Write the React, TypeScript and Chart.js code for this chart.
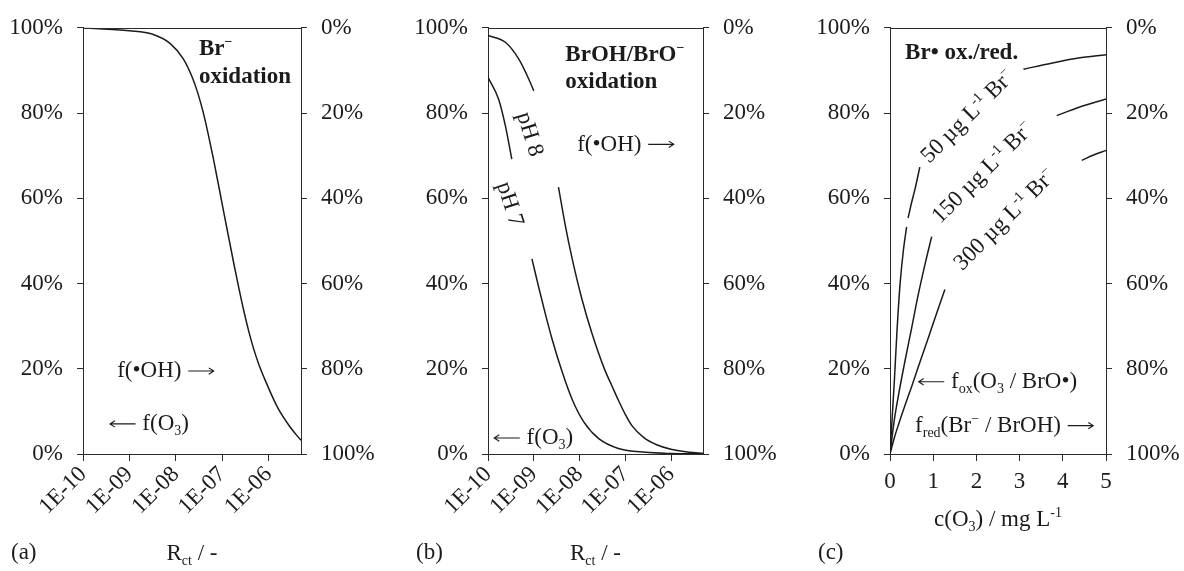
import React, { useEffect, useRef } from 'react';
import { Chart, registerables } from 'chart.js';

Chart.register(...registerables);

const SERIF = "'Liberation Serif', 'Times New Roman', Times, serif";
const INK = '#1b1b1b';
const RULE = '#2b2b2b';
const FS = 23;
const H = 571;

// (a) Br⁻ oxidation: share of O3 pathway against Rct
const rctBromide = [1e-10, 1e-9, 3.16e-9, 7.41e-9, 1.45e-8, 2.34e-8, 3.02e-8, 3.89e-8, 5.01e-8, 6.46e-8, 1.07e-7, 1.78e-7, 2.29e-7, 2.88e-7, 3.72e-7, 4.79e-7, 6.17e-7, 7.94e-7, 1.55e-6, 3.02e-6, 5e-6];
const o3ShareBromide = [100, 99.3, 98.5, 96.4, 92.7, 88.0, 84.5, 80.2, 75.0, 69.3, 57.0, 44.7, 38.9, 33.9, 28.9, 24.6, 21.0, 18.0, 11.0, 6.1, 3.2];

// (b) BrOH/BrO⁻ oxidation at pH 8 and pH 7 (null = gap left for the curve label)
const rctPH8 = [1e-10, 2.4e-10, 4.68e-10, 7.76e-10, 1e-9, 2e-9, 3.47e-9, 4.9e-9, 6.92e-9, 1.12e-8, 1.86e-8, 3.55e-8, 5.01e-8, 7.08e-8, 1e-7, 1.41e-7, 2.51e-7, 5.01e-7, 1e-6, 2.51e-6, 5e-6];
const o3SharePH8 = [98.2, 96.6, 92.7, 88.0, 85.2, null, 62.6, 53.6, 45.8, 36.5, 28.4, 19.8, 16.2, 12.6, 9.3, 6.6, 3.9, 2.1, 1.1, 0.4, 0.15];
const rctPH7 = [1e-10, 1.7e-10, 2.4e-10, 3.31e-10, 6e-10, 9.12e-10, 1.29e-9, 1.78e-9, 2.51e-9, 4.17e-9, 6.92e-9, 1.26e-8, 2.63e-8, 7.08e-8, 2.75e-7, 1e-6, 5e-6];
const o3SharePH7 = [88.4, 83.3, 77.0, 69.2, null, 45.8, 39.0, 33.0, 27.0, 19.3, 12.8, 7.4, 3.6, 1.3, 0.4, 0.12, 0.03];

// (c) Br• oxidation share against ozone dose, for three bromide levels
const doseBr50 = [0, 0.1, 0.16, 0.23, 0.31, 0.385, 0.4, 0.42, 0.5, 0.58, 0.69, 1.5, 3.09, 3.74, 4.36, 5];
const oxShareBr50 = [0, 17, 28.5, 39.5, 47.8, 53.3, null, 55.4, 59.0, 62.2, 67.3, null, 90.3, 91.7, 92.9, 93.7];
const doseBr150 = [0, 0.1, 0.2, 0.35, 0.5, 0.65, 0.81, 0.965, 2, 3.86, 4.36, 5];
const oxShareBr150 = [0, 8, 14, 22, 29.5, 37.2, 44.5, 51, null, 79.4, 81.3, 83.3];
const doseBr300 = [0, 0.1, 0.2, 0.35, 0.5, 0.65, 0.81, 0.965, 1.12, 1.27, 3, 4.44, 4.7, 5];
const oxShareBr300 = [0, 3.8, 7.0, 11.5, 15.8, 20.3, 25.0, 29.6, 34.2, 38.6, null, 68.9, 70.1, 71.2];

const rctTicks = [1e-10, 1e-9, 1e-8, 1e-7, 1e-6];
const doseTicks = [0, 1, 2, 3, 4, 5];

type Seg = { t: string; s?: 'sub' | 'sup'; arrow?: 'l' | 'r' };
type Note = { x: number; y: number; segs: Seg[]; bold?: boolean; rot?: number; mid?: boolean };
type Series = { xs: number[]; ys: (number | null)[] };

interface PanelSpec {
  left: number;
  width: number;
  axisLeft: number;
  axisRight: number;
  log: boolean;
  letter: string;
  xTitle: Seg[];
  xTitleDrop: number;
  series: Series[];
  notes: Note[];
}

const fontOf = (size: number, bold: boolean) => `${bold ? 'bold ' : ''}${size}px ${SERIF}`;
const ARROW_W = FS * 1.2;

// draws a run of text pieces with sub/superscripts and long thin arrows
function drawRich(
  ctx: CanvasRenderingContext2D,
  segs: Seg[],
  x: number,
  y: number,
  opt: { bold?: boolean; rot?: number; mid?: boolean; center?: boolean }
) {
  const small = Math.round(FS * 0.62);
  ctx.save();
  ctx.translate(x, y);
  if (opt.rot) ctx.rotate((opt.rot * Math.PI) / 180);
  ctx.textBaseline = 'alphabetic';
  ctx.textAlign = 'left';
  ctx.fillStyle = INK;
  ctx.strokeStyle = INK;
  const widths = segs.map((sg) => {
    if (sg.arrow) return ARROW_W;
    ctx.font = fontOf(sg.s ? small : FS, !!opt.bold);
    return ctx.measureText(sg.t).width;
  });
  const total = widths.reduce((a, b) => a + b, 0);
  let cx = opt.center || opt.mid ? -total / 2 : 0;
  const base = opt.mid ? FS * 0.33 : 0;
  segs.forEach((sg, i) => {
    if (sg.arrow) {
      const ay = base - FS * 0.27;
      const x0 = cx + 1;
      const x1 = cx + widths[i] - 1;
      const tip = sg.arrow === 'r' ? x1 : x0;
      const back = sg.arrow === 'r' ? -1 : 1;
      ctx.lineWidth = 1.1;
      ctx.beginPath();
      ctx.moveTo(x0, ay);
      ctx.lineTo(x1, ay);
      ctx.moveTo(tip + back * 5, ay - 3.2);
      ctx.lineTo(tip, ay);
      ctx.lineTo(tip + back * 5, ay + 3.2);
      ctx.stroke();
    } else {
      ctx.font = fontOf(sg.s ? small : FS, !!opt.bold);
      const dy = sg.s === 'sub' ? FS * 0.22 : sg.s === 'sup' ? -FS * 0.38 : 0;
      ctx.fillText(sg.t, cx, base + dy);
    }
    cx += widths[i];
  });
  ctx.restore();
}

const rctLabel = (v: number) => {
  const e = Math.round(Math.log10(v));
  return '1E-' + String(-e).padStart(2, '0');
};

const rctTitle: Seg[] = [{ t: 'R' }, { t: 'ct', s: 'sub' }, { t: ' / -' }];
const ohNote: Seg[] = [{ t: 'f(•OH) ' }, { t: '', arrow: 'r' }];
const o3Note: Seg[] = [{ t: '', arrow: 'l' }, { t: ' f(O' }, { t: '3', s: 'sub' }, { t: ')' }];
const brLabel = (amount: string): Seg[] => [
  { t: `${amount} µg L` },
  { t: '-1', s: 'sup' },
  { t: ' Br' },
  { t: '−', s: 'sup' },
];

const panels: PanelSpec[] = [
  {
    left: 0,
    width: 390,
    axisLeft: 83,
    axisRight: 89,
    log: true,
    letter: '(a)',
    xTitle: rctTitle,
    xTitleDrop: 106,
    series: [{ xs: rctBromide, ys: o3ShareBromide }],
    notes: [
      { x: 3.16e-8, y: 93.7, segs: [{ t: 'Br' }, { t: '−', s: 'sup' }], bold: true },
      { x: 3.16e-8, y: 87.1, segs: [{ t: 'oxidation' }], bold: true },
      { x: 5.45e-10, y: 18.0, segs: ohNote },
      { x: 3.63e-10, y: 5.6, segs: o3Note },
    ],
  },
  {
    left: 390,
    width: 390,
    axisLeft: 98,
    axisRight: 77,
    log: true,
    letter: '(b)',
    xTitle: rctTitle,
    xTitleDrop: 106,
    series: [
      { xs: rctPH8, ys: o3SharePH8 },
      { xs: rctPH7, ys: o3SharePH7 },
    ],
    notes: [
      { x: 4.9e-9, y: 92.3, segs: [{ t: 'BrOH/BrO' }, { t: '−', s: 'sup' }], bold: true },
      { x: 4.9e-9, y: 85.9, segs: [{ t: 'oxidation' }], bold: true },
      { x: 8.9e-9, y: 71.2, segs: ohNote },
      { x: 1.3e-10, y: 2.3, segs: o3Note },
      { x: 8.7e-10, y: 75.1, segs: [{ t: 'pH 8' }], rot: 73, mid: true },
      { x: 3.2e-10, y: 58.7, segs: [{ t: 'pH 7' }], rot: 72, mid: true },
    ],
  },
  {
    left: 780,
    width: 404,
    axisLeft: 110,
    axisRight: 78,
    log: false,
    letter: '(c)',
    xTitle: [{ t: 'c(O' }, { t: '3', s: 'sub' }, { t: ') / mg L' }, { t: '-1', s: 'sup' }],
    xTitleDrop: 72,
    series: [
      { xs: doseBr50, ys: oxShareBr50 },
      { xs: doseBr150, ys: oxShareBr150 },
      { xs: doseBr300, ys: oxShareBr300 },
    ],
    notes: [
      { x: 0.35, y: 92.7, segs: [{ t: 'Br• ox./red.' }], bold: true },
      { x: 1.78, y: 79.4, segs: brLabel('50'), rot: -45, mid: true },
      { x: 2.13, y: 66.2, segs: brLabel('150'), rot: -45, mid: true },
      { x: 2.64, y: 55.2, segs: brLabel('300'), rot: -45, mid: true },
      {
        x: 0.64,
        y: 15.5,
        segs: [{ t: '', arrow: 'l' }, { t: ' f' }, { t: 'ox', s: 'sub' }, { t: '(O' }, { t: '3', s: 'sub' }, { t: ' / BrO•)' }],
      },
      {
        x: 0.58,
        y: 5.2,
        segs: [{ t: 'f' }, { t: 'red', s: 'sub' }, { t: '(Br' }, { t: '−', s: 'sup' }, { t: ' / BrOH) ' }, { t: '', arrow: 'r' }],
      },
    ],
  },
];

function buildChart(canvas: HTMLCanvasElement, spec: PanelSpec) {
  const decor = {
    id: 'panelDecor',
    afterDraw(chart: any) {
      const ctx: CanvasRenderingContext2D = chart.ctx;
      const area = chart.chartArea;
      const xs = chart.scales.x;
      const ys = chart.scales.y;
      // top edge of the frame
      ctx.save();
      ctx.strokeStyle = RULE;
      ctx.lineWidth = 1;
      ctx.beginPath();
      ctx.moveTo(Math.round(area.left), Math.round(area.top) + 0.5);
      ctx.lineTo(Math.round(area.right), Math.round(area.top) + 0.5);
      ctx.stroke();
      ctx.restore();
      // in-plot notes
      spec.notes.forEach((n) => {
        drawRich(ctx, n.segs, xs.getPixelForValue(n.x), ys.getPixelForValue(n.y), {
          bold: n.bold,
          rot: n.rot,
          mid: n.mid,
        });
      });
      // axis title and panel letter
      const cx = (area.left + area.right) / 2;
      drawRich(ctx, spec.xTitle, cx, area.bottom + spec.xTitleDrop, { center: true });
      drawRich(ctx, [{ t: spec.letter }], area.left - 72, area.bottom + 105, {});
    },
  };

  const tickGrid = { drawOnChartArea: false, drawTicks: true, tickLength: 6, color: RULE, lineWidth: 1 };
  const border = { display: true, color: RULE, width: 1 };

  const xScale: any = spec.log
    ? {
        type: 'logarithmic',
        min: 1e-10,
        max: 5e-6,
        afterBuildTicks: (s: any) => {
          s.ticks = rctTicks.map((v) => ({ value: v }));
        },
        ticks: {
          callback: (v: number) => rctLabel(v),
          minRotation: 45,
          maxRotation: 45,
          autoSkip: false,
          padding: 0,
          color: INK,
          font: { family: SERIF, size: FS },
        },
      }
    : {
        type: 'linear',
        min: 0,
        max: 5,
        afterBuildTicks: (s: any) => {
          s.ticks = doseTicks.map((v) => ({ value: v }));
        },
        ticks: {
          maxRotation: 0,
          autoSkip: false,
          padding: 7,
          color: INK,
          font: { family: SERIF, size: FS },
        },
      };
  xScale.position = 'bottom';
  xScale.grid = { ...tickGrid, tickLength: 7 };
  xScale.border = border;
  xScale.afterFit = (s: any) => {
    s.height = 117;
  };

  const pctTicks = {
    stepSize: 20,
    padding: 14,
    color: INK,
    font: { family: SERIF, size: FS },
    callback: (v: number) => `${v}%`,
  };

  return new Chart(canvas, {
    type: 'line',
    data: {
      datasets: spec.series.map((s) => ({
        data: s.xs.map((x, i) => ({ x, y: s.ys[i] })) as any,
        borderColor: INK,
        borderWidth: 1.5,
        pointRadius: 0,
        cubicInterpolationMode: 'monotone' as const,
        spanGaps: false,
        xAxisID: 'x',
        yAxisID: 'y',
      })),
    },
    options: {
      responsive: false,
      animation: false,
      devicePixelRatio: 1,
      layout: { padding: { top: 27, left: 0, right: 0, bottom: 0 } },
      plugins: { legend: { display: false }, tooltip: { enabled: false } },
      events: [],
      scales: {
        x: xScale,
        y: {
          type: 'linear',
          position: 'left',
          min: 0,
          max: 100,
          ticks: pctTicks,
          grid: tickGrid,
          border,
          afterFit: (s: any) => {
            s.width = spec.axisLeft;
          },
        },
        y2: {
          type: 'linear',
          position: 'right',
          reverse: true,
          min: 0,
          max: 100,
          ticks: pctTicks,
          grid: tickGrid,
          border,
          afterFit: (s: any) => {
            s.width = spec.axisRight;
          },
        },
      },
    },
    plugins: [decor],
  });
}

function Panel({ spec }: { spec: PanelSpec }) {
  const ref = useRef<HTMLCanvasElement>(null);
  useEffect(() => {
    if (!ref.current) return;
    const chart = buildChart(ref.current, spec);
    return () => chart.destroy();
  }, [spec]);
  return (
    <div style={{ position: 'absolute', left: spec.left, top: 0, width: spec.width, height: H }}>
      <canvas ref={ref} width={spec.width} height={H} style={{ display: 'block' }} />
    </div>
  );
}

export default function App() {
  return (
    <div style={{ position: 'absolute', left: 0, top: 0, width: 1184, height: H, background: '#fff' }}>
      {panels.map((p) => (
        <Panel key={p.letter} spec={p} />
      ))}
    </div>
  );
}
